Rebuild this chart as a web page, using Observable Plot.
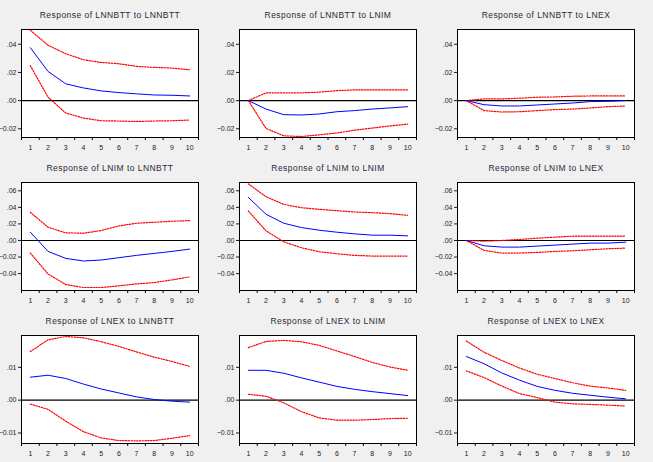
<!DOCTYPE html>
<html>
<head>
<meta charset="utf-8">
<script src="https://cdn.jsdelivr.net/npm/d3@7"></script>
<script src="https://cdn.jsdelivr.net/npm/@observablehq/plot@0.6"></script>
<style>
  html, body { margin: 0; padding: 0; background: #f0f0f0; }
  #chart { position: relative; width: 653px; height: 462px; background: #f0f0f0; overflow: hidden; }
  #chart svg { position: absolute; }
  #chart svg g[aria-label="text"] text { letter-spacing: 0.45px; }
</style>
</head>
<body>
<div id="chart"></div>
<script>
const periods = [1, 2, 3, 4, 5, 6, 7, 8, 9, 10];
const periodEdges = [0.5, 1.5, 2.5, 3.5, 4.5, 5.5, 6.5, 7.5, 8.5, 9.5, 10.5];

const titles = [
  "Response of LNNBTT to LNNBTT", "Response of LNNBTT to LNIM", "Response of LNNBTT to LNEX",
  "Response of LNIM to LNNBTT", "Response of LNIM to LNIM", "Response of LNIM to LNEX",
  "Response of LNEX to LNNBTT", "Response of LNEX to LNIM", "Response of LNEX to LNEX"
];

// Row y-axis domains and tick values
const rowDomains = [[-0.0262, 0.0505], [-0.0604, 0.0700], [-0.0132, 0.0197]];
const rowTicks = [[-0.02, 0, 0.02, 0.04], [-0.04, -0.02, 0, 0.02, 0.04, 0.06], [-0.01, 0, 0.01]];

// Response of LNNBTT to LNNBTT
const nbtt_nbtt = [0.0376, 0.0207, 0.0119, 0.0090, 0.0069, 0.0057, 0.0048, 0.0040, 0.0038, 0.0033];
const nbtt_nbtt_hi = [0.0500, 0.0393, 0.0333, 0.0290, 0.0271, 0.0262, 0.0243, 0.0236, 0.0231, 0.0219];
const nbtt_nbtt_lo = [0.0248, 0.0024, -0.0088, -0.0124, -0.0143, -0.0145, -0.0148, -0.0145, -0.0143, -0.0138];
// Response of LNNBTT to LNIM
const nbtt_im = [0, -0.0060, -0.0100, -0.0102, -0.0095, -0.0079, -0.0071, -0.0060, -0.0052, -0.0043];
const nbtt_im_hi = [0, 0.0055, 0.0055, 0.0055, 0.0060, 0.0071, 0.0076, 0.0076, 0.0076, 0.0076];
const nbtt_im_lo = [0, -0.0198, -0.0250, -0.0255, -0.0243, -0.0230, -0.0210, -0.0195, -0.0180, -0.0167];
// Response of LNNBTT to LNEX
const nbtt_ex = [0, -0.0029, -0.0038, -0.0038, -0.0031, -0.0024, -0.0017, -0.0007, -0.0005, 0];
const nbtt_ex_hi = [0, 0.0012, 0.0012, 0.0017, 0.0024, 0.0026, 0.0031, 0.0033, 0.0033, 0.0033];
const nbtt_ex_lo = [0, -0.0071, -0.0081, -0.0079, -0.0071, -0.0064, -0.0060, -0.0052, -0.0043, -0.0038];
// Response of LNIM to LNNBTT
const im_nbtt = [0.0100, -0.0132, -0.0216, -0.0248, -0.0236, -0.0208, -0.0180, -0.0156, -0.0132, -0.0104];
const im_nbtt_hi = [0.0340, 0.0160, 0.0092, 0.0088, 0.0120, 0.0176, 0.0208, 0.0220, 0.0232, 0.0240];
const im_nbtt_lo = [-0.0152, -0.0404, -0.0532, -0.0568, -0.0568, -0.0548, -0.0524, -0.0508, -0.0476, -0.0440];
// Response of LNIM to LNIM
const im_im = [0.0520, 0.0316, 0.0208, 0.0156, 0.0124, 0.0100, 0.0080, 0.0064, 0.0064, 0.0056];
const im_im_hi = [0.0684, 0.0528, 0.0436, 0.0396, 0.0376, 0.0360, 0.0344, 0.0336, 0.0324, 0.0304];
const im_im_lo = [0.0356, 0.0116, -0.0016, -0.0088, -0.0136, -0.0160, -0.0180, -0.0188, -0.0188, -0.0188];
// Response of LNIM to LNEX
const im_ex = [0, -0.0064, -0.0080, -0.0080, -0.0068, -0.0056, -0.0044, -0.0032, -0.0032, -0.0020];
const im_ex_hi = [0, -0.0008, 0, 0.0012, 0.0028, 0.0040, 0.0052, 0.0052, 0.0052, 0.0052];
const im_ex_lo = [0, -0.0120, -0.0152, -0.0152, -0.0144, -0.0132, -0.0124, -0.0112, -0.0100, -0.0092];
// Response of LNEX to LNNBTT
const ex_nbtt = [0.0070, 0.0076, 0.0066, 0.0049, 0.0034, 0.0022, 0.0010, 0.0002, -0.0003, -0.0006];
const ex_nbtt_hi = [0.0148, 0.0184, 0.0194, 0.0190, 0.0178, 0.0164, 0.0147, 0.0131, 0.0118, 0.0103];
const ex_nbtt_lo = [-0.0012, -0.0028, -0.0064, -0.0096, -0.0115, -0.0123, -0.0124, -0.0123, -0.0116, -0.0108];
// Response of LNEX to LNIM
const ex_im = [0.0091, 0.0091, 0.0082, 0.0068, 0.0055, 0.0042, 0.0033, 0.0026, 0.0020, 0.0014];
const ex_im_hi = [0.0160, 0.0179, 0.0182, 0.0178, 0.0167, 0.0150, 0.0133, 0.0115, 0.0101, 0.0091];
const ex_im_lo = [0.0018, 0.0012, -0.0008, -0.0035, -0.0054, -0.0061, -0.0061, -0.0059, -0.0056, -0.0055];
// Response of LNEX to LNEX
const ex_ex = [0.0133, 0.0111, 0.0083, 0.0061, 0.0042, 0.0030, 0.0021, 0.0015, 0.0009, 0.0004];
const ex_ex_hi = [0.0180, 0.0146, 0.0121, 0.0098, 0.0079, 0.0066, 0.0053, 0.0043, 0.0037, 0.0030];
const ex_ex_lo = [0.0089, 0.0069, 0.0043, 0.0020, 0.0008, -0.0006, -0.0011, -0.0013, -0.0015, -0.0018];

const series = [
  [nbtt_nbtt, nbtt_nbtt_lo, nbtt_nbtt_hi], [nbtt_im, nbtt_im_lo, nbtt_im_hi], [nbtt_ex, nbtt_ex_lo, nbtt_ex_hi],
  [im_nbtt, im_nbtt_lo, im_nbtt_hi], [im_im, im_im_lo, im_im_hi], [im_ex, im_ex_lo, im_ex_hi],
  [ex_nbtt, ex_nbtt_lo, ex_nbtt_hi], [ex_im, ex_im_lo, ex_im_hi], [ex_ex, ex_ex_lo, ex_ex_hi]
];

const colLeft = [21, 239, 457];
const rowTop = [29, 182, 335];
const frameW = 177, frameH = 108;
const mL = 24, mR = 6, mT = 24, mB = 18;

const fmt = v => {
  const s = d3.format(".2f")(v);
  return s.replace(/^(-?)0\./, "$1.");
};

const chart = document.getElementById("chart");

series.forEach(([mid, lo, hi], k) => {
  const row = Math.floor(k / 3), col = k % 3;
  const data = periods.map((p, i) => ({p, mid: mid[i], lo: lo[i], hi: hi[i]}));
  const svg = Plot.plot({
    width: frameW + mL + mR,
    height: frameH + mT + mB,
    marginLeft: mL, marginRight: mR, marginTop: mT, marginBottom: mB,
    style: {background: "transparent", fontFamily: "Arial, 'Liberation Sans', sans-serif", overflow: "visible"},
    x: {domain: [0.5, 10.5], axis: null},
    y: {domain: rowDomains[row], axis: null},
    marks: [
      Plot.frame({fill: "white", stroke: null}),
      Plot.ruleY([0], {stroke: "black", strokeWidth: 1.2}),
      Plot.line(data, {x: "p", y: "hi", stroke: "#ff0000", strokeWidth: 1.2, strokeDasharray: "1.4,1.4"}),
      Plot.line(data, {x: "p", y: "lo", stroke: "#ff0000", strokeWidth: 1.2, strokeDasharray: "1.4,1.4"}),
      Plot.line(data, {x: "p", y: "mid", stroke: "#0000ff", strokeWidth: 1}),
      Plot.frame({stroke: "black", strokeWidth: 1}),
      Plot.axisY({ticks: rowTicks[row], tickSize: 3, tickPadding: 2, tickFormat: fmt, fontSize: 7, color: "#1a1a2e", label: null}),
      Plot.axisX({ticks: periodEdges, tickSize: 3, tickFormat: () => "", label: null}),
      Plot.axisX({ticks: periods, tickSize: 0, tickPadding: 8, tickFormat: d => String(d), fontSize: 7, color: "#1a1a2e", label: null}),
      Plot.text([titles[k]], {frameAnchor: "top", dy: -12, lineAnchor: "bottom", fontSize: 8.5, fill: "#2a2a3a", text: d => d})
    ]
  });
  svg.style.left = (colLeft[col] - mL) + "px";
  svg.style.top = (rowTop[row] - mT) + "px";
  chart.appendChild(svg);
});
</script>
</body>
</html>
